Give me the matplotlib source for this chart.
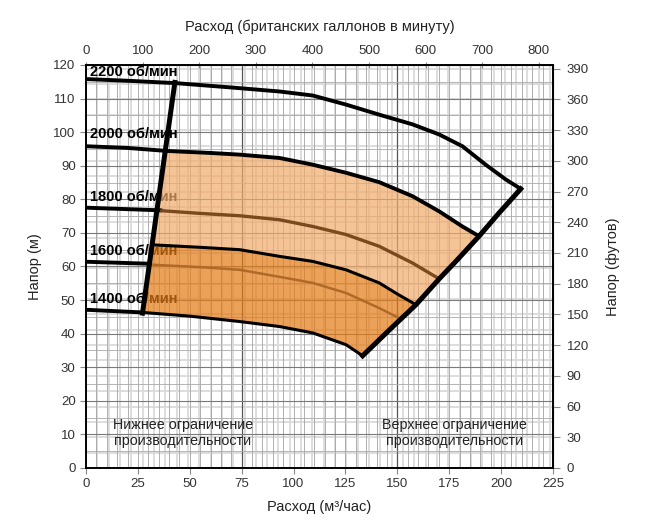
import matplotlib.pyplot as plt
import numpy as np

plt.rcParams['font.family'] = ['Liberation Sans', 'DejaVu Sans']

# flow in m3/h, head in m
c2200_q = [0, 20, 43, 70, 93.3, 109.3, 125.3, 141.3, 157.4, 170.2, 181.4, 192.6, 202.3, 209.5]
c2200_h = [115.8, 115.3, 114.6, 113.3, 112.1, 110.9, 108.2, 105.2, 102.3, 99.3, 95.8, 90.3, 85.9, 83.1]

c2000_out_q = [0, 20, 38.8]
c2000_out_h = [95.8, 95.3, 94.4]
c2000_q = [38.8, 60, 74, 93.3, 109.3, 125.3, 141.3, 157.4, 170.2, 181.4, 189.4]
c2000_h = [94.4, 93.8, 93.3, 92.3, 90.3, 87.9, 85.1, 80.9, 76.4, 71.9, 69.0]

c1800_out_q = [0, 36.4]
c1800_out_h = [77.5, 76.7]
c1800_q = [36.4, 55, 74, 93.3, 109.3, 125.3, 141.3, 157.4, 170.2]
c1800_h = [76.6, 75.8, 75.1, 73.9, 71.9, 69.5, 66.0, 61.0, 56.3]

c1600_out_q = [0, 31.0]
c1600_out_h = [61.4, 60.8]
c1600_q = [33.2, 55, 74, 93.3, 109.3, 125.3, 141.3, 150, 159]
c1600_h = [66.4, 65.7, 65.0, 63.0, 61.5, 59.0, 55.1, 51.8, 48.6]

c1500_q = [32.4, 55, 74, 93.3, 109.3, 125.3, 141.3, 151]
c1500_h = [60.5, 59.8, 59.0, 56.9, 55.1, 52.1, 47.6, 44.6]

c1400_out_q = [0, 27.4]
c1400_out_h = [47.1, 46.3]
c1400_q = [27.4, 50, 74, 93.3, 109.3, 125.3, 133.3]
c1400_h = [46.3, 45.2, 43.6, 42.1, 40.2, 36.7, 33.4]

low_q = [27.2, 42.8]
low_h = [46.1, 114.8]
high_q = [133.3, 146.2, 159, 170.2, 178.2, 189.4, 199, 209.5]
high_h = [33.4, 41.1, 48.6, 56.3, 61.5, 69.0, 75.9, 83.1]

speed_labels = ['2200 об/мин', '2000 об/мин', '1800 об/мин', '1600 об/мин', '1400 об/мин']
speed_label_h = [117.8, 99.3, 80.8, 64.7, 50.4]

M3H_TO_GPM = 3.6662
M_TO_FT = 3.2808

fig = plt.figure(figsize=(6.52, 5.24), dpi=100)
ax = fig.add_axes([0.132, 0.107, 0.716, 0.769])
ax.set_xlim(0, 225)
ax.set_ylim(0, 120)

# grids: light ones in gallons / feet, darker ones in m3/h / m
for q in np.arange(0, 826, 20) / M3H_TO_GPM:
    ax.axvline(q, color='#dadada', lw=1.3, zorder=0)
for h in np.arange(0, 395, 15) / M_TO_FT:
    ax.axhline(h, color='#dadada', lw=1.3, zorder=0)
for q in np.arange(5, 225, 5):
    dark = q % 75 == 0
    ax.axvline(q, color='#555555' if dark else '#a2a2a2', lw=0.9 if dark else 0.6, zorder=0.5)
for h in np.arange(5, 120, 5):
    dark = h % 10 == 0
    ax.axhline(h, color='#7a7a7a' if dark else '#aaaaaa', lw=0.8 if dark else 0.6, zorder=0.5)

# speed labels (under the shaded zone)
for txt, h in zip(speed_labels, speed_label_h):
    ax.text(1.8, h, txt, fontsize=10.5, fontweight='bold', va='center', ha='left', zorder=2)


def left_q(h):
    return low_q[0] + (h - low_h[0]) * (low_q[1] - low_q[0]) / (low_h[1] - low_h[0])


# shaded zones
top_q = [left_q(c2000_h[0])] + c2000_q[1:]
top_h = c2000_h
mid_q = [left_q(c1600_h[0])] + c1600_q[1:]
mid_h = c1600_h
bot_q = [left_q(c1400_h[0])] + c1400_q[1:]
bot_h = c1400_h

light_x = top_q + high_q[2:5][::-1] + mid_q[::-1]
light_y = top_h + high_h[2:5][::-1] + mid_h[::-1]
ax.fill(light_x, light_y, color='#f1ab6a', alpha=0.7, lw=0, zorder=3)

dark_x = mid_q + high_q[:3][::-1] + bot_q[::-1]
dark_y = mid_h + high_h[:3][::-1] + bot_h[::-1]
ax.fill(dark_x, dark_y, color='#e47a13', alpha=0.7, lw=0, zorder=3)

# curves
kw = dict(solid_joinstyle='round', solid_capstyle='round', zorder=5)
ax.plot(c2200_q, c2200_h, color='black', lw=2.8, **kw)
ax.plot(c2000_out_q, c2000_out_h, color='black', lw=2.8, **kw)
ax.plot(c2000_q, c2000_h, color='black', lw=2.8, **kw)
ax.plot(c1800_out_q, c1800_out_h, color='black', lw=2.8, **kw)
ax.plot(c1800_q, c1800_h, color='#7a4a1e', lw=2.4, **kw)
ax.plot(c1600_out_q, c1600_out_h, color='black', lw=2.8, **kw)
ax.plot(c1600_q, c1600_h, color='black', lw=2.2, **kw)
ax.plot(c1500_q, c1500_h, color='#b06a28', lw=1.8, **kw)
ax.plot(c1400_out_q, c1400_out_h, color='black', lw=2.8, **kw)
ax.plot(c1400_q, c1400_h, color='black', lw=2.2, **kw)
ax.plot(low_q, low_h, color='black', lw=3.6, zorder=6)
ax.plot(high_q, high_h, color='black', lw=3.6, solid_joinstyle='round', zorder=6)

ax.text(46.6, 10.4, 'Нижнее ограничение\nпроизводительности', ha='center', va='center',
        fontsize=10.3, color='#222222', zorder=7)
ax.text(177.4, 10.4, 'Верхнее ограничение\nпроизводительности', ha='center', va='center',
        fontsize=10.3, color='#222222', zorder=7)

# axes
ax.set_xticks(np.arange(0, 226, 25))
ax.set_yticks(np.arange(0, 121, 10))
ax.tick_params(labelsize=9.5, labelcolor='#333333', color='#888888', length=4)
for sp in ax.spines.values():
    sp.set_linewidth(1.4)
    sp.set_zorder(8)
ax.set_xlabel('Расход (м³/час)', fontsize=10.5, color='#222222', labelpad=7)
ax.set_ylabel('Напор (м)', fontsize=10.5, color='#222222', labelpad=8)

top = ax.secondary_xaxis('top', functions=(lambda q: q * M3H_TO_GPM, lambda g: g / M3H_TO_GPM))
top.set_xticks(np.arange(0, 801, 100))
top.tick_params(labelsize=9.5, labelcolor='#333333', color='#888888', length=4, direction='inout')
top.set_xlabel('Расход (британских галлонов в минуту)', fontsize=10.5, color='#222222', labelpad=10)

right = ax.secondary_yaxis('right', functions=(lambda h: h * M_TO_FT, lambda f: f / M_TO_FT))
right.set_yticks(np.arange(0, 391, 30))
right.tick_params(labelsize=9.5, labelcolor='#333333', color='#888888', length=5, pad=5)
right.set_ylabel('Напор (футов)', fontsize=10.5, color='#222222', labelpad=12)

fig.savefig('out.png', dpi=100)
